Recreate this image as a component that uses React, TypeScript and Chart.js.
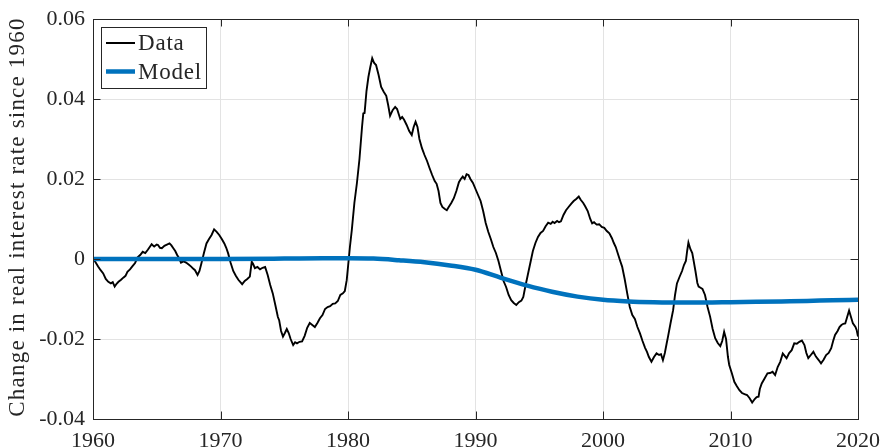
import { useEffect, useRef } from 'react';
import { Chart, registerables } from 'chart.js';

Chart.register(...registerables);

const dataYears = [
  1960.0, 1960.2, 1960.4, 1960.6, 1960.8, 1961.0, 1961.2, 1961.4, 1961.55, 1961.7, 1961.85,
  1962.0, 1962.2, 1962.4, 1962.55, 1962.7, 1962.9, 1963.1, 1963.3, 1963.5, 1963.7, 1963.9,
  1964.1, 1964.3, 1964.45, 1964.6, 1964.8, 1965.0, 1965.1, 1965.25, 1965.4, 1965.6, 1965.8,
  1966.0, 1966.15, 1966.3, 1966.45, 1966.6, 1966.75, 1966.9, 1967.1, 1967.3, 1967.5, 1967.7,
  1967.85, 1968.0, 1968.2, 1968.35, 1968.5, 1968.7, 1968.9, 1969.1, 1969.3, 1969.5, 1969.7,
  1969.9, 1970.1, 1970.3, 1970.45, 1970.6, 1970.8, 1971.0, 1971.2, 1971.4, 1971.7, 1971.9,
  1972.1, 1972.3, 1972.45, 1972.55, 1972.7, 1972.9, 1973.1, 1973.3, 1973.5, 1973.7, 1973.9,
  1974.1, 1974.3, 1974.5, 1974.6, 1974.75, 1974.9, 1975.05, 1975.2, 1975.35, 1975.5, 1975.7,
  1975.85, 1976.0, 1976.2, 1976.4, 1976.6, 1976.8, 1977.0, 1977.2, 1977.4, 1977.6, 1977.8,
  1978.0, 1978.2, 1978.4, 1978.6, 1978.8, 1979.0, 1979.2, 1979.4, 1979.6, 1979.75, 1979.9,
  1980.0, 1980.15, 1980.3, 1980.5, 1980.7, 1980.9, 1981.1, 1981.2, 1981.3, 1981.45, 1981.6,
  1981.75, 1981.9, 1982.05, 1982.2, 1982.4, 1982.6, 1982.8, 1983.0, 1983.15, 1983.3, 1983.5,
  1983.7, 1983.85, 1984.0, 1984.1, 1984.25, 1984.4, 1984.6, 1984.8, 1985.0, 1985.15, 1985.3,
  1985.45, 1985.6, 1985.8, 1986.0, 1986.2, 1986.4, 1986.6, 1986.8, 1986.95, 1987.1, 1987.25,
  1987.4, 1987.6, 1987.75, 1987.9, 1988.1, 1988.3, 1988.5, 1988.7, 1988.85, 1989.0, 1989.15,
  1989.3, 1989.45, 1989.6, 1989.8, 1990.0, 1990.2, 1990.4, 1990.6, 1990.8, 1991.0, 1991.2,
  1991.4, 1991.6, 1991.8, 1992.0, 1992.2, 1992.4, 1992.6, 1992.8, 1993.0, 1993.2, 1993.4,
  1993.6, 1993.75, 1993.9, 1994.1, 1994.3, 1994.5, 1994.7, 1994.9, 1995.1, 1995.3, 1995.5,
  1995.7, 1995.9, 1996.05, 1996.2, 1996.4, 1996.55, 1996.7, 1996.9, 1997.1, 1997.3, 1997.5,
  1997.7, 1997.9, 1998.1, 1998.25, 1998.45, 1998.6, 1998.8, 1999.0, 1999.15, 1999.3, 1999.5,
  1999.7, 1999.9, 2000.1, 2000.3, 2000.5, 2000.7, 2000.85, 2001.0, 2001.2, 2001.35, 2001.5,
  2001.7, 2001.9, 2002.1, 2002.3, 2002.5, 2002.7, 2002.9, 2003.1, 2003.3, 2003.45, 2003.6,
  2003.8, 2004.0, 2004.2, 2004.4, 2004.55, 2004.7, 2004.85, 2005.0, 2005.1, 2005.3, 2005.5,
  2005.65, 2005.8, 2006.0, 2006.2, 2006.35, 2006.5, 2006.6, 2006.7, 2006.85, 2007.0, 2007.1,
  2007.25, 2007.4, 2007.5, 2007.65, 2007.8, 2008.0, 2008.2, 2008.4, 2008.6, 2008.8, 2009.0,
  2009.2, 2009.35, 2009.5, 2009.65, 2009.8, 2009.9, 2010.1, 2010.3, 2010.5, 2010.7, 2010.9,
  2011.1, 2011.3, 2011.5, 2011.7, 2011.9, 2012.05, 2012.2, 2012.3, 2012.45, 2012.65, 2012.9,
  2013.1, 2013.3, 2013.5, 2013.7, 2013.9, 2014.1, 2014.25, 2014.4, 2014.6, 2014.8, 2015.0,
  2015.2, 2015.4, 2015.6, 2015.8, 2015.95, 2016.1, 2016.3, 2016.5, 2016.7, 2016.9, 2017.1,
  2017.3, 2017.5, 2017.7, 2017.9, 2018.05, 2018.2, 2018.4, 2018.55, 2018.7, 2018.85, 2019.0,
  2019.15, 2019.3, 2019.45, 2019.6, 2019.8, 2019.9, 2020.0,
];

const dataValues = [
  0.0, -0.0008, -0.0019, -0.0028, -0.0036, -0.005, -0.0057, -0.0061, -0.0058, -0.0069, -0.0062,
  -0.0057, -0.0052, -0.0046, -0.0042, -0.0032, -0.0026, -0.0018, -0.001, 0.0004, 0.001, 0.0018,
  0.0015, 0.0023, 0.003, 0.0037, 0.0031, 0.0036, 0.0035, 0.0028, 0.0027, 0.0033, 0.0036,
  0.0039, 0.0034, 0.0027, 0.002, 0.001, 0.0002, -0.0009, -0.0006, -0.0009, -0.0014, -0.0019,
  -0.0024, -0.0028, -0.004, -0.003, -0.0011, 0.0015, 0.0039, 0.005, 0.006, 0.0074, 0.0068,
  0.006, 0.005, 0.0039, 0.0028, 0.0014, -0.001, -0.003, -0.0042, -0.0052, -0.0063, -0.0055,
  -0.005, -0.0044, -0.0007, -0.0012, -0.0023, -0.002, -0.0026, -0.0022, -0.002, -0.004, -0.0065,
  -0.0086, -0.0115, -0.0145, -0.0153, -0.018, -0.0194, -0.0185, -0.0175, -0.0185, -0.02, -0.0215,
  -0.0208, -0.0211, -0.0207, -0.0206, -0.0192, -0.0172, -0.016, -0.0165, -0.017, -0.016, -0.0148,
  -0.014, -0.0125, -0.012, -0.0118, -0.0112, -0.0111, -0.0105, -0.009, -0.0086, -0.008, -0.0053,
  -0.002, 0.003, 0.0073, 0.014, 0.019, 0.025, 0.033, 0.0364, 0.0365, 0.042, 0.0455,
  0.048, 0.0502, 0.049, 0.0485, 0.046, 0.043, 0.0418, 0.0408, 0.0385, 0.0358, 0.0372,
  0.038, 0.0375, 0.036, 0.035, 0.0355, 0.0348, 0.0335, 0.032, 0.031, 0.033, 0.0343,
  0.033, 0.03, 0.0277, 0.026, 0.0245, 0.0227, 0.021, 0.0195, 0.0188, 0.017, 0.014,
  0.013, 0.0125, 0.0122, 0.013, 0.014, 0.0152, 0.017, 0.0192, 0.02, 0.0206, 0.02,
  0.0212, 0.021, 0.02, 0.019, 0.0175, 0.016, 0.0145, 0.012, 0.009, 0.0068, 0.005,
  0.003, 0.0015, -0.0005, -0.003, -0.0055, -0.007, -0.009, -0.0103, -0.011, -0.0115, -0.0108,
  -0.0104, -0.0095, -0.007, -0.004, -0.001, 0.002, 0.004, 0.0055, 0.0065, 0.007, 0.0082,
  0.0091, 0.0088, 0.0093, 0.009, 0.0095, 0.0092, 0.0094, 0.011, 0.0122, 0.013, 0.0138,
  0.0145, 0.015, 0.0156, 0.0148, 0.014, 0.0132, 0.012, 0.01, 0.0089, 0.0092, 0.0086,
  0.0087, 0.008, 0.0078, 0.007, 0.0064, 0.0052, 0.004, 0.003, 0.001, -0.0005, -0.0019,
  -0.005, -0.0086, -0.012, -0.014, -0.015, -0.017, -0.0186, -0.0205, -0.0222, -0.0232, -0.0245,
  -0.0257, -0.0245, -0.0236, -0.024, -0.0238, -0.0253, -0.0235, -0.021, -0.0194, -0.016, -0.0128,
  -0.009, -0.0061, -0.0045, -0.003, -0.0015, -0.0005, 0.002, 0.0041, 0.0025, 0.0015, -0.0003,
  -0.003, -0.006, -0.0069, -0.0072, -0.0075, -0.009, -0.012, -0.0144, -0.0175, -0.0198, -0.021,
  -0.0218, -0.0205, -0.0182, -0.02, -0.0245, -0.0265, -0.0285, -0.0307, -0.0318, -0.0328, -0.0335,
  -0.0338, -0.034, -0.0348, -0.0359, -0.035, -0.0345, -0.0344, -0.0325, -0.0311, -0.03, -0.0286,
  -0.0285, -0.0282, -0.029, -0.027, -0.0257, -0.0236, -0.0242, -0.0248, -0.0235, -0.0228, -0.0211,
  -0.0212, -0.0207, -0.0204, -0.0215, -0.0235, -0.0248, -0.024, -0.0232, -0.0244, -0.0252, -0.0261,
  -0.0252, -0.024, -0.0235, -0.0223, -0.0205, -0.019, -0.018, -0.017, -0.0165, -0.0162, -0.0161,
  -0.0145, -0.0129, -0.0145, -0.0161, -0.017, -0.0178, -0.0194,
];

const modelYears = [
  1960, 1965, 1970, 1975, 1978, 1980, 1982, 1984, 1986, 1988, 1990, 1992, 1994,
  1996, 1998, 2000, 2002, 2004, 2006, 2008, 2010, 2012, 2014, 2016, 2018, 2020,
];
const modelValues = [
  0.0, 0.0, 0.0, 0.0001, 0.0002, 0.0002, 0.0001, -0.0003, -0.0008, -0.0016, -0.0027, -0.0047, -0.0066,
  -0.0082, -0.0094, -0.0102, -0.0106, -0.0108, -0.0109, -0.0109, -0.0108, -0.0107, -0.0106, -0.0105, -0.0103, -0.0102,
];

const xTicks = [1960, 1970, 1980, 1990, 2000, 2010, 2020];
const yTicks = [-0.04, -0.02, 0, 0.02, 0.04, 0.06];
const seriesLabels = ['Data', 'Model'];
const yTitle = 'Change in real interest rate since 1960';

const FONT = '"Liberation Serif", "Times New Roman", serif';
const TEXT = '#262626';
const DATA_COLOR = '#000000';
const MODEL_COLOR = '#0072BD';

export default function App() {
  const ref = useRef<HTMLCanvasElement | null>(null);

  useEffect(() => {
    document.body.style.margin = '0';
    const canvas = ref.current;
    if (!canvas) return;

    const framePlugin = {
      id: 'frame',
      afterDatasetsDraw(chart: any) {
        const { ctx, chartArea } = chart;
        const { left, right, top, bottom } = chartArea;
        const xs = chart.scales.x;
        const ys = chart.scales.y;
        const tl = 7.5;
        ctx.save();
        ctx.strokeStyle = TEXT;
        ctx.lineWidth = 1;
        ctx.beginPath();
        xTicks.forEach((v) => {
          const px = Math.round(xs.getPixelForValue(v)) + 0.5;
          ctx.moveTo(px, bottom);
          ctx.lineTo(px, bottom - tl);
          ctx.moveTo(px, top);
          ctx.lineTo(px, top + tl);
        });
        yTicks.forEach((v) => {
          const py = Math.round(ys.getPixelForValue(v)) + 0.5;
          ctx.moveTo(left, py);
          ctx.lineTo(left + tl, py);
          ctx.moveTo(right, py);
          ctx.lineTo(right - tl, py);
        });
        ctx.stroke();
        ctx.strokeRect(Math.round(left) + 0.5, Math.round(top) + 0.5, Math.round(right - left), Math.round(bottom - top));
        ctx.restore();
      },
      afterDraw(chart: any) {
        const { ctx, chartArea } = chart;
        const { left, top, bottom } = chartArea;
        ctx.save();
        ctx.fillStyle = TEXT;
        ctx.font = `23px ${FONT}`;
        (ctx as any).letterSpacing = '1.2px';
        ctx.textAlign = 'center';
        ctx.textBaseline = 'middle';
        ctx.translate(18, (top + bottom) / 2 - 2);
        ctx.rotate(-Math.PI / 2);
        ctx.fillText(yTitle, 0, 0);
        ctx.restore();

        ctx.save();
        const bx = Math.round(left + 8) + 0.5;
        const by = Math.round(top + 8) + 0.5;
        const bw = 105;
        const bh = 61;
        ctx.fillStyle = '#ffffff';
        ctx.fillRect(bx, by, bw, bh);
        ctx.strokeStyle = TEXT;
        ctx.lineWidth = 1;
        ctx.strokeRect(bx, by, bw, bh);
        const colors = [DATA_COLOR, MODEL_COLOR];
        const widths = [2, 4.5];
        seriesLabels.forEach((lab, i) => {
          const cy = by + 15.5 + i * 28.5;
          ctx.strokeStyle = colors[i];
          ctx.lineWidth = widths[i];
          ctx.beginPath();
          ctx.moveTo(bx + 4.5, cy);
          ctx.lineTo(bx + 33.5, cy);
          ctx.stroke();
          ctx.fillStyle = TEXT;
          ctx.font = `23px ${FONT}`;
          (ctx as any).letterSpacing = '0.8px';
          ctx.textAlign = 'left';
          ctx.textBaseline = 'middle';
          ctx.fillText(lab, bx + 36.5, cy + 1);
        });
        ctx.restore();
      },
    };

    const chart = new Chart(canvas, {
      type: 'line',
      data: {
        datasets: [
          {
            label: seriesLabels[1],
            data: modelYears.map((x, i) => ({ x, y: modelValues[i] })),
            borderColor: MODEL_COLOR,
            borderWidth: 4.5,
            pointRadius: 0,
            cubicInterpolationMode: 'monotone',
            fill: false,
            order: 0,
          },
          {
            label: seriesLabels[0],
            data: dataYears.map((x, i) => ({ x, y: dataValues[i] })),
            borderColor: DATA_COLOR,
            borderWidth: 1.9,
            pointRadius: 0,
            tension: 0,
            fill: false,
            order: 1,
          },
        ],
      },
      options: {
        responsive: false,
        animation: false,
        devicePixelRatio: 1,
        layout: { padding: { top: 19, right: 26, left: 0, bottom: 0 } },
        plugins: { legend: { display: false }, tooltip: { enabled: false } },
        scales: {
          x: {
            type: 'linear',
            min: 1960,
            max: 2020,
            afterBuildTicks: (s: any) => {
              s.ticks = xTicks.map((v) => ({ value: v }));
            },
            afterFit: (s: any) => {
              s.height = 29;
              s.paddingRight = 0;
              s.paddingLeft = 0;
            },
            ticks: {
              color: TEXT,
              font: { family: FONT, size: 22 },
              padding: 9,
              maxRotation: 0,
              autoSkip: false,
              callback: (v: any) => String(v),
            },
            grid: { color: '#e3e3e3', lineWidth: 1, drawTicks: false },
            border: { display: false },
          },
          y: {
            type: 'linear',
            min: -0.04,
            max: 0.06,
            afterBuildTicks: (s: any) => {
              s.ticks = yTicks.map((v) => ({ value: v }));
            },
            afterFit: (s: any) => {
              s.width = 93;
              s.paddingTop = 0;
              s.paddingBottom = 0;
            },
            ticks: {
              color: TEXT,
              font: { family: FONT, size: 22 },
              padding: 8,
              autoSkip: false,
              callback: (v: any) => (Math.abs(v) < 1e-9 ? '0' : Number(v).toFixed(2)),
            },
            grid: { color: '#e3e3e3', lineWidth: 1, drawTicks: false },
            border: { display: false },
          },
        },
      },
      plugins: [framePlugin],
    } as any);

    return () => chart.destroy();
  }, []);

  return <canvas ref={ref} width={884} height={448} style={{ display: 'block' }} />;
}
